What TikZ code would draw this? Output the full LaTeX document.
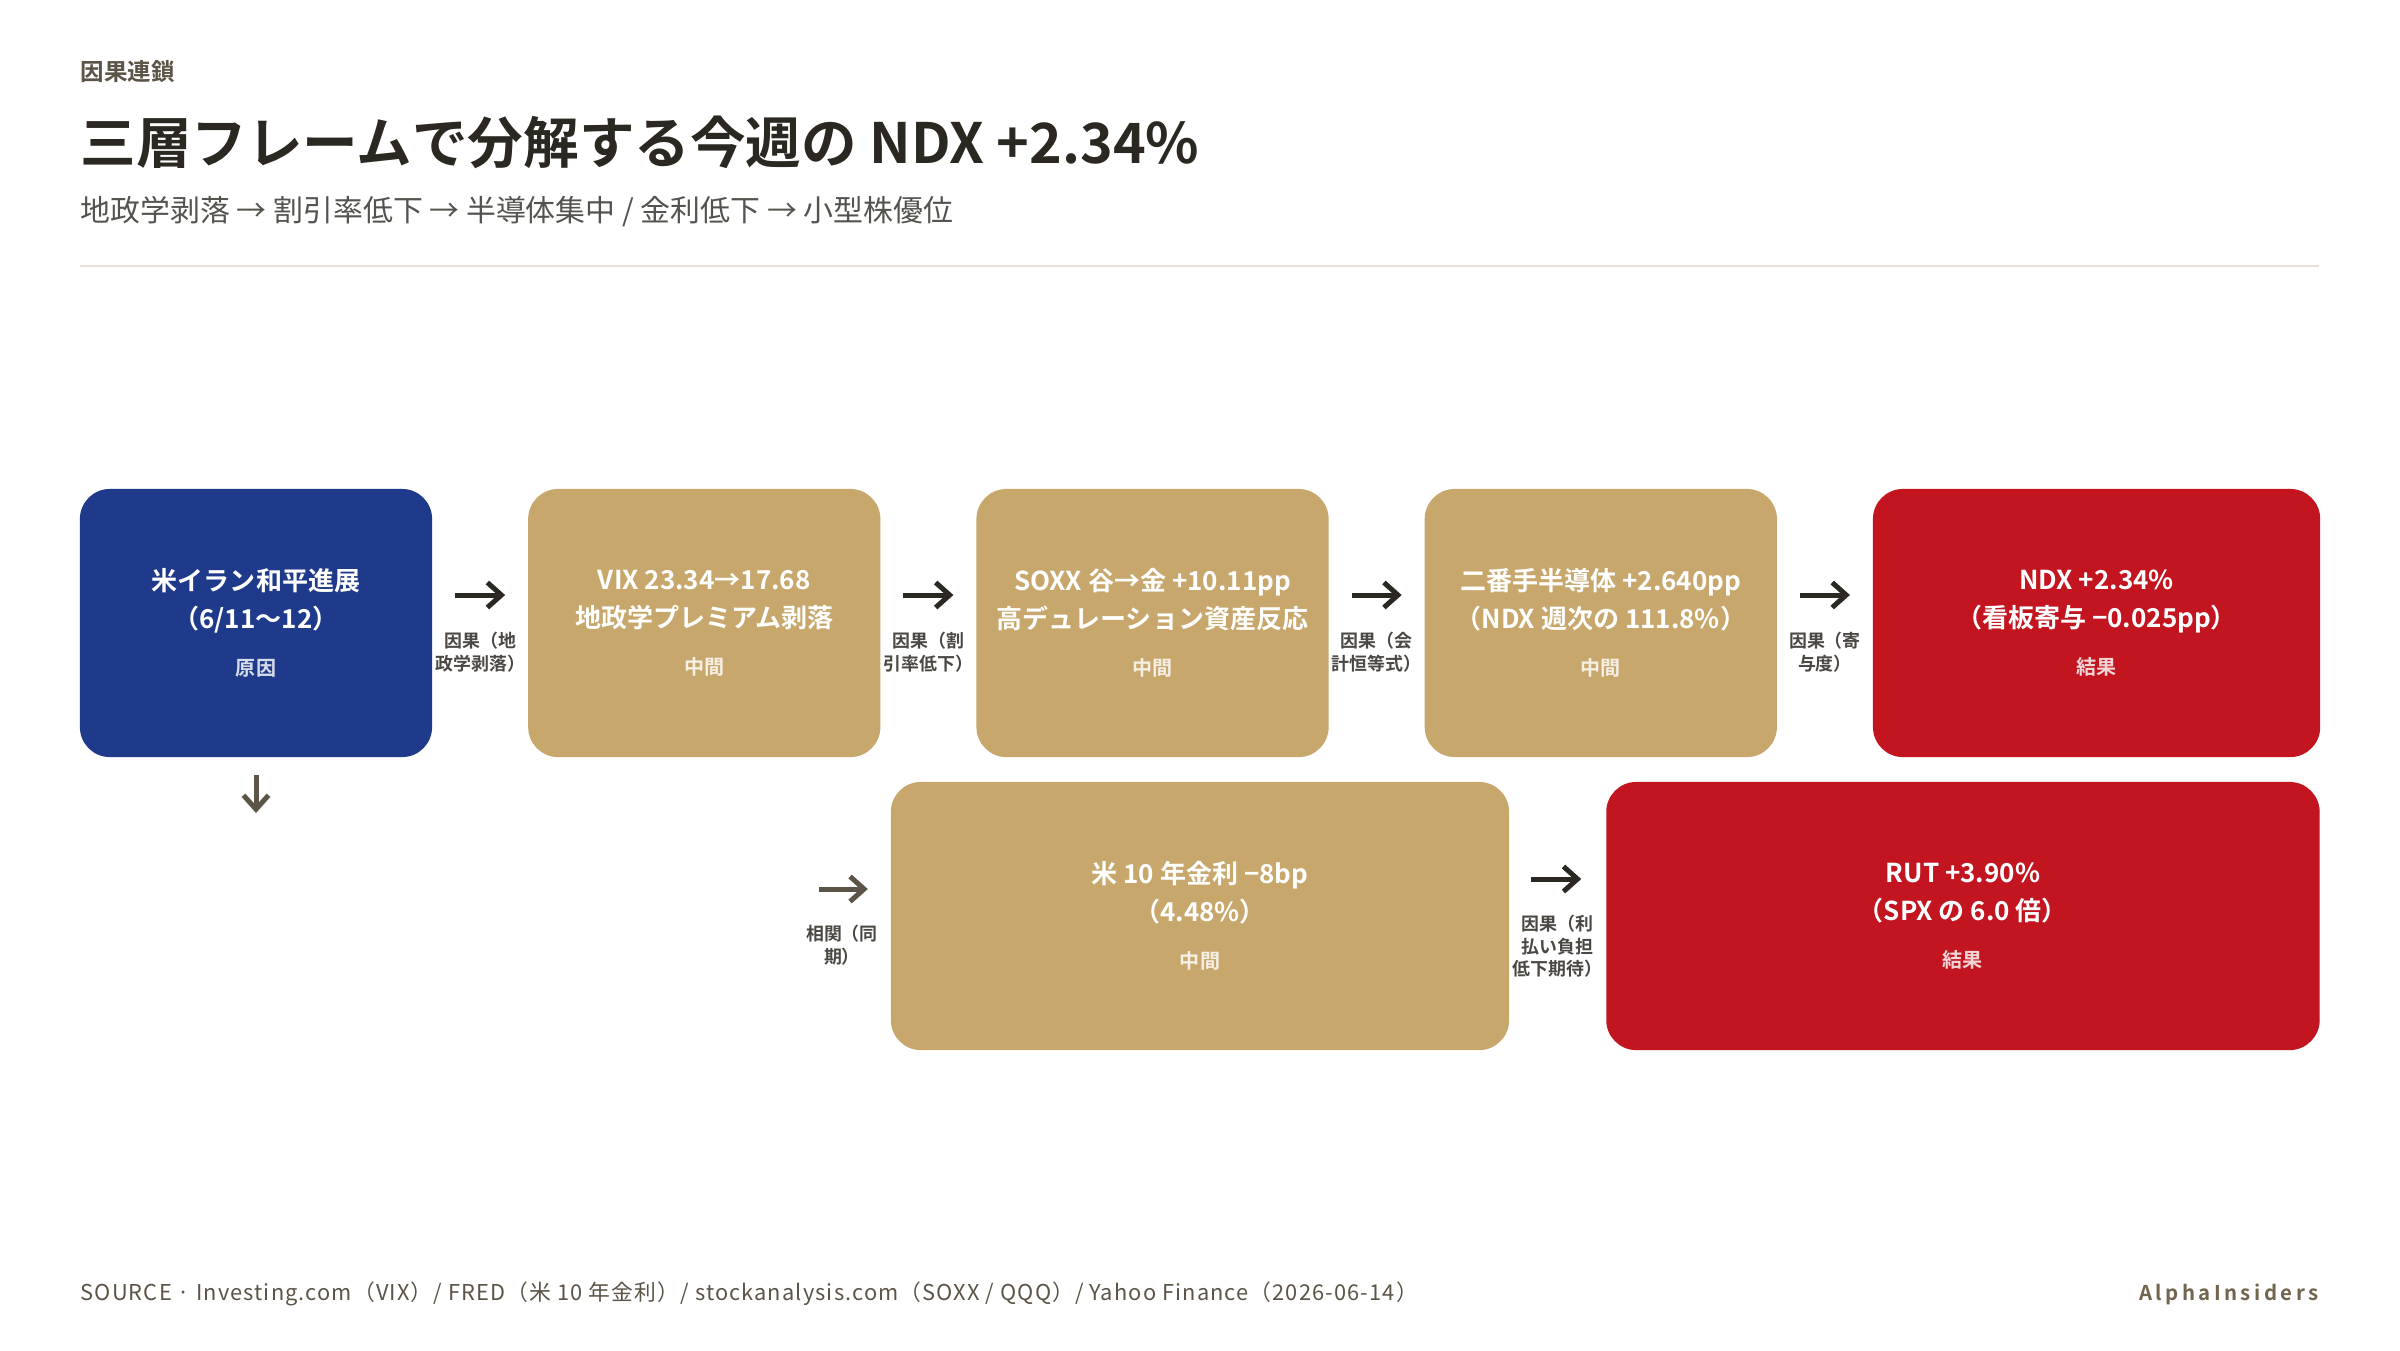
\documentclass[tikz,border=0pt]{standalone}
\usepackage{fontspec}
\setmainfont{Noto Sans CJK JP}[BoldFont={Noto Sans CJK JP Bold}]
\usetikzlibrary{positioning,arrows.meta}

\definecolor{navy}{HTML}{1F3A8A}
\definecolor{gold}{HTML}{C8A76C}
\definecolor{crimson}{HTML}{C2151F}
\definecolor{ink}{HTML}{2B2822}
\definecolor{mute}{HTML}{5C5447}
\definecolor{rulecol}{HTML}{E6E1D3}

\tikzset{
  box/.style={rectangle, rounded corners=3mm, minimum height=2.68cm, align=center, text=white, inner sep=0pt, outer sep=0pt, font=\fontsize{7.4}{10.8}\selectfont\bfseries},
  cause/.style={box, fill=navy},
  mid/.style={box, fill=gold},
  result/.style={box, fill=crimson},
  link/.style={-{Straight Barb[length=1.4mm,width=2.5mm]}, line width=0.5mm, draw=ink},
  elabel/.style={align=center, text=ink!85, inner sep=0pt, font=\fontsize{5.1}{6.3}\selectfont\bfseries},
}
\newcommand{\kind}[2]{\\[2.6pt]{\fontsize{5.7}{6.8}\selectfont\color{white!82!#1}#2}}

\begin{document}
\begin{tikzpicture}[x=0.01cm, y=-0.01cm]
\fill[white] (0,0) rectangle (2400,1350);
\useasboundingbox (0,0) rectangle (2400,1350);

% Заголовок
\node (kicker) [anchor=west, inner sep=0pt, text=mute, font=\fontsize{6.7}{8}\selectfont\bfseries] at (80,72) {因果連鎖};
\node (title) [anchor=west, inner sep=0pt, text=ink, font=\fontsize{15.8}{18}\selectfont\bfseries] at (80,142) {三層フレームで分解する今週の NDX +2.34\%};
\node (sub) [anchor=west, inner sep=0pt, text=ink!80, font=\fontsize{8.5}{10}\selectfont] at (80,212) {地政学剥落 → 割引率低下 → 半導体集中 / 金利低下 → 小型株優位};
\draw[rulecol, line width=0.2mm] (80,266) -- (2319,266);

% Верхний ряд
\node (iran) [cause, minimum width=3.52cm] at (256,623) {米イラン和平進展\\（6/11～12）\kind{navy}{原因}};
\node (vix) [mid, minimum width=3.52cm, right=0.96cm of iran] {VIX 23.34→17.68\\地政学プレミアム剥落\kind{gold}{中間}};
\node (soxx) [mid, minimum width=3.52cm, right=0.96cm of vix] {SOXX 谷→金 +10.11pp\\高デュレーション資産反応\kind{gold}{中間}};
\node (semi) [mid, minimum width=3.52cm, right=0.96cm of soxx] {二番手半導体 +2.640pp\\（NDX 週次の 111.8\%）\kind{gold}{中間}};
\node (ndx) [result, minimum width=4.47cm, right=0.96cm of semi] {NDX +2.34\%\\（看板寄与 −0.025pp）\kind{crimson}{結果}};

% Нижний ряд
\node (rate) [mid, minimum width=6.18cm] at (1200,916) {米 10 年金利 −8bp\\（4.48\%）\kind{gold}{中間}};
\node (rut) [result, minimum width=7.13cm, right=0.97cm of rate] {RUT +3.90\%\\（SPX の 6.0 倍）\kind{crimson}{結果}};

% Связи
\draw[link, shorten <=2.3mm, shorten >=2.3mm] (iran.east |- 0,595) -- (vix.west |- 0,595) node[elabel, midway, below=3.5mm] {因果（地\\政学剥落）};
\draw[link, shorten <=2.3mm, shorten >=2.3mm] (vix.east |- 0,595) -- (soxx.west |- 0,595) node[elabel, midway, below=3.5mm] {因果（割\\引率低下）};
\draw[link, shorten <=2.3mm, shorten >=2.3mm] (soxx.east |- 0,595) -- (semi.west |- 0,595) node[elabel, midway, below=3.5mm] {因果（会\\計恒等式）};
\draw[link, shorten <=2.3mm, shorten >=2.3mm] (semi.east |- 0,595) -- (ndx.west |- 0,595) node[elabel, midway, below=3.5mm] {因果（寄\\与度）};

\coordinate (down) at (256,813);
\draw[link, draw=mute, shorten <=1.8mm] (iran.south) -- (down);
\coordinate (corr) at (819,889);
\draw[link, draw=mute, shorten >=2.3mm] (corr) -- (rate.west |- corr) node[elabel, pos=0.32, below=3.4mm] {相関（同\\期）};
\draw[link, shorten <=2.2mm, shorten >=2.5mm] (rate.east |- 0,879) -- (rut.west |- 0,879) node[elabel, midway, below=3.4mm] {因果（利\\払い負担\\低下期待）};

% Подвал
\node (src) [anchor=west, inner sep=0pt, text=mute, font=\fontsize{6.2}{7.5}\selectfont\addfontfeatures{LetterSpace=5.2}] at (80,1294) {SOURCE · Investing.com（VIX）/ FRED（米 10 年金利）/ stockanalysis.com（SOXX / QQQ）/ Yahoo Finance（2026-06-14）};
\node (brand) [anchor=east, inner sep=0pt, text=mute!80!gold, font=\fontsize{5.8}{7}\selectfont\bfseries\addfontfeatures{LetterSpace=17}] at (2319,1294) {AlphaInsiders};
\end{tikzpicture}
\end{document}
